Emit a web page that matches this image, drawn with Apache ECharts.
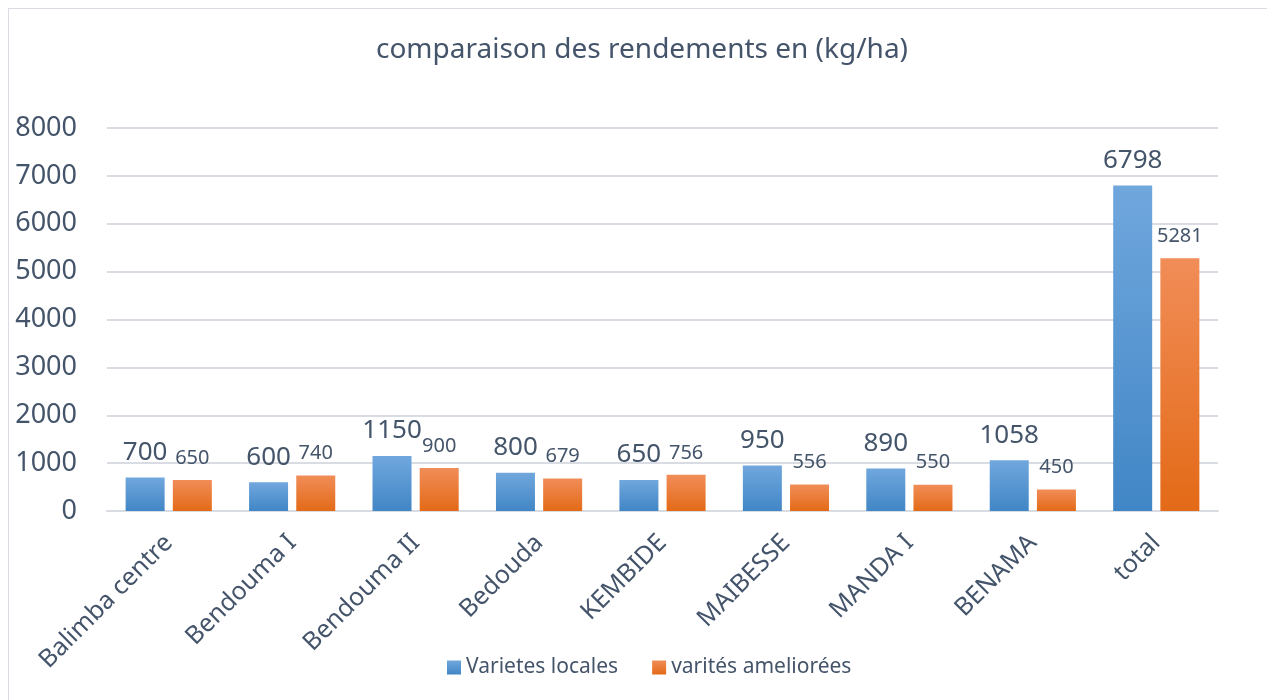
<!DOCTYPE html>
<html>
<head>
<meta charset="utf-8">
<script src="https://cdn.jsdelivr.net/npm/echarts@6/dist/echarts.min.js"></script>
<style>
    html, body { margin: 0; padding: 0; background: #fff; }
    #frame {
        position: absolute; left: 8px; top: 8px;
        width: 1300px; height: 720px;
        border: 1px solid #d9dde3; box-sizing: border-box;
    }
    #chart { position: absolute; left: 0; top: 0; width: 1267px; height: 700px; }
</style>
</head>
<body>
<div id="frame"></div>
<div id="chart"></div>
<script>
    // data
    const categories = ['Balimba centre', 'Bendouma I', 'Bendouma II', 'Bedouda', 'KEMBIDE', 'MAIBESSE', 'MANDA I', 'BENAMA', 'total']
    const localValues = [700, 600, 1150, 800, 650, 950, 890, 1058, 6798]
    const improvedValues = [650, 740, 900, 679, 756, 556, 550, 450, 5281]
    const seriesNames = ['Varietes locales', 'varités ameliorées']

    const textColor = '#44546a'
    const fontFamily = '"Noto Sans", sans-serif'

    const blueFill = new echarts.graphic.LinearGradient(0, 0, 0, 1, [
        { offset: 0, color: '#70a7dd' },
        { offset: 1, color: '#4186c6' }
    ])
    const orangeFill = new echarts.graphic.LinearGradient(0, 0, 0, 1, [
        { offset: 0, color: '#f18d58' },
        { offset: 1, color: '#e36a17' }
    ])

    const myChart = echarts.init(document.getElementById('chart'), null, { renderer: 'canvas' })

    const option = {
        animation: false,
        textStyle: { fontFamily: fontFamily },
        title: {
            text: 'comparaison des rendements en (kg/ha)',
            left: 637,
            top: 31,
            textAlign: 'center',
            textStyle: {
                color: textColor,
                fontSize: 28,
                fontWeight: 'normal',
                fontFamily: fontFamily
            }
        },
        legend: {
            data: seriesNames,
            left: 442,
            top: 652,
            itemWidth: 14,
            itemHeight: 14,
            itemGap: 34,
            icon: 'rect',
            textStyle: { color: textColor, fontSize: 21, fontFamily: fontFamily }
        },
        grid: {
            left: 107,
            right: 49,
            top: 128,
            bottom: 189
        },
        xAxis: [{
            type: 'category',
            data: categories,
            axisLine: { lineStyle: { color: '#d9dde3', width: 2 } },
            axisTick: { show: false },
            axisLabel: {
                rotate: 45,
                interval: 0,
                margin: 28,
                color: textColor,
                fontSize: 25,
                fontFamily: fontFamily
            }
        }],
        yAxis: [{
            type: 'value',
            min: 0,
            max: 8000,
            interval: 1000,
            axisLine: { show: false },
            axisTick: { show: false },
            axisLabel: {
                margin: 30,
                color: textColor,
                fontSize: 27,
                fontFamily: fontFamily,
                formatter: (v) => String(v)
            },
            splitLine: { lineStyle: { color: '#d9dde3', width: 2 } }
        }],
        series: [
            {
                name: seriesNames[0],
                type: 'bar',
                barWidth: 39,
                barGap: '21%',
                itemStyle: { color: blueFill },
                label: {
                    show: true,
                    position: 'top',
                    distance: 12,
                    color: textColor,
                    fontSize: 26,
                    fontFamily: fontFamily
                },
                data: localValues
            },
            {
                name: seriesNames[1],
                type: 'bar',
                barWidth: 39,
                itemStyle: { color: orangeFill },
                label: {
                    show: true,
                    position: 'top',
                    distance: 12,
                    color: textColor,
                    fontSize: 20,
                    fontFamily: fontFamily
                },
                data: improvedValues
            }
        ]
    }

    myChart.setOption(option)
    window.addEventListener('resize', () => myChart.resize(), false)
</script>
</body>
</html>
